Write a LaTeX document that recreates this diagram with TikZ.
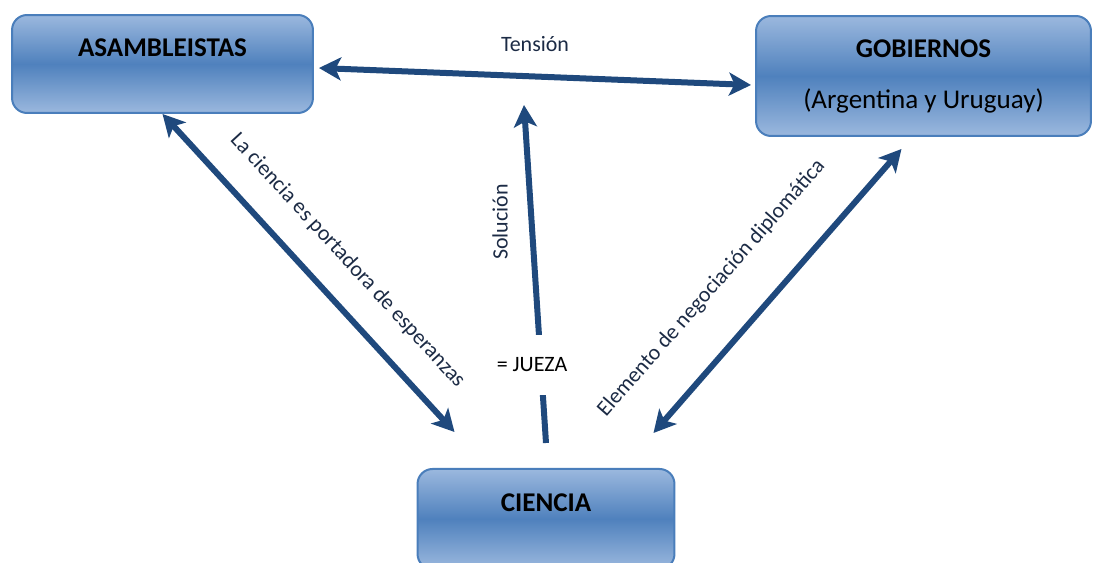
\documentclass[tikz,border=0pt]{standalone}
\usepackage{fontspec}
\setmainfont{Carlito}
\usetikzlibrary{arrows.meta}

\definecolor{boxlight}{HTML}{9BB8DE}
\definecolor{boxmid}{HTML}{4F81BD}
\definecolor{boxedge}{HTML}{4A7EBB}
\definecolor{arrowblue}{HTML}{1F497D}
\definecolor{labtext}{HTML}{1C2B45}

\begin{document}
\begin{tikzpicture}[
    x=0.02cm, y=-0.02cm,
    >={Stealth[length=0.44cm, width=0.46cm, inset=0.11cm]},
    box/.style={rectangle, rounded corners=0.3cm, draw=boxedge, line width=0.04cm, top color=boxlight, bottom color=boxlight, middle color=boxmid, align=center, font=\fontsize{15.4}{29}\selectfont},
    dbl/.style={<->, line width=0.12cm, draw=arrowblue},
    arrow/.style={->, line width=0.12cm, draw=arrowblue},
    lbl/.style={font=\fontsize{12.5}{15}\selectfont, text=labtext}
]
\useasboundingbox (0,0) rectangle (1093,563);

% Boxes
\node[box, minimum width=6.02cm, minimum height=1.96cm, text depth=0.64cm] (asam) at (162.5,64) {\textbf{ASAMBLEISTAS}};
\node[box, minimum width=6.7cm, minimum height=2.4cm] (gob) at (923.5,76) {\textbf{GOBIERNOS}\\(Argentina y Uruguay)};
\node[box, minimum width=5.14cm, minimum height=2.0cm, text depth=0.64cm, anchor=north] (cien) at (546,468) {\textbf{CIENCIA}};

% Connections
\draw[dbl] ([shift={(5,4)}]asam.east) -- ([shift={(-4,9)}]gob.west)
    node[lbl, midway, above=0.32cm] (tension) {Tensión};
\draw[dbl] (asam.south) -- ([shift={(38,-36)}]cien.north west)
    node[lbl, pos=0.54, sloped, above=0.38cm] (esper) {La ciencia es portadora de esperanzas};
\draw[dbl] ([shift={(-22,-35)}]cien.north east) -- ([shift={(-22,12)}]gob.south)
    node[lbl, pos=0.39, sloped, above=0.66cm] (negoc) {Elemento de negociación diplomática};

% Solution arrow
\coordinate (soltip) at (524,105);
\draw[arrow] ([shift={(0,-25)}]cien.north) -- (soltip);
\node[lbl, rotate=90] (solucion) at (500,222) {Solución};
\node[lbl, text=black, fill=white, minimum height=1.2cm] (jueza) at (532,365) {= JUEZA};

\end{tikzpicture}
\end{document}
